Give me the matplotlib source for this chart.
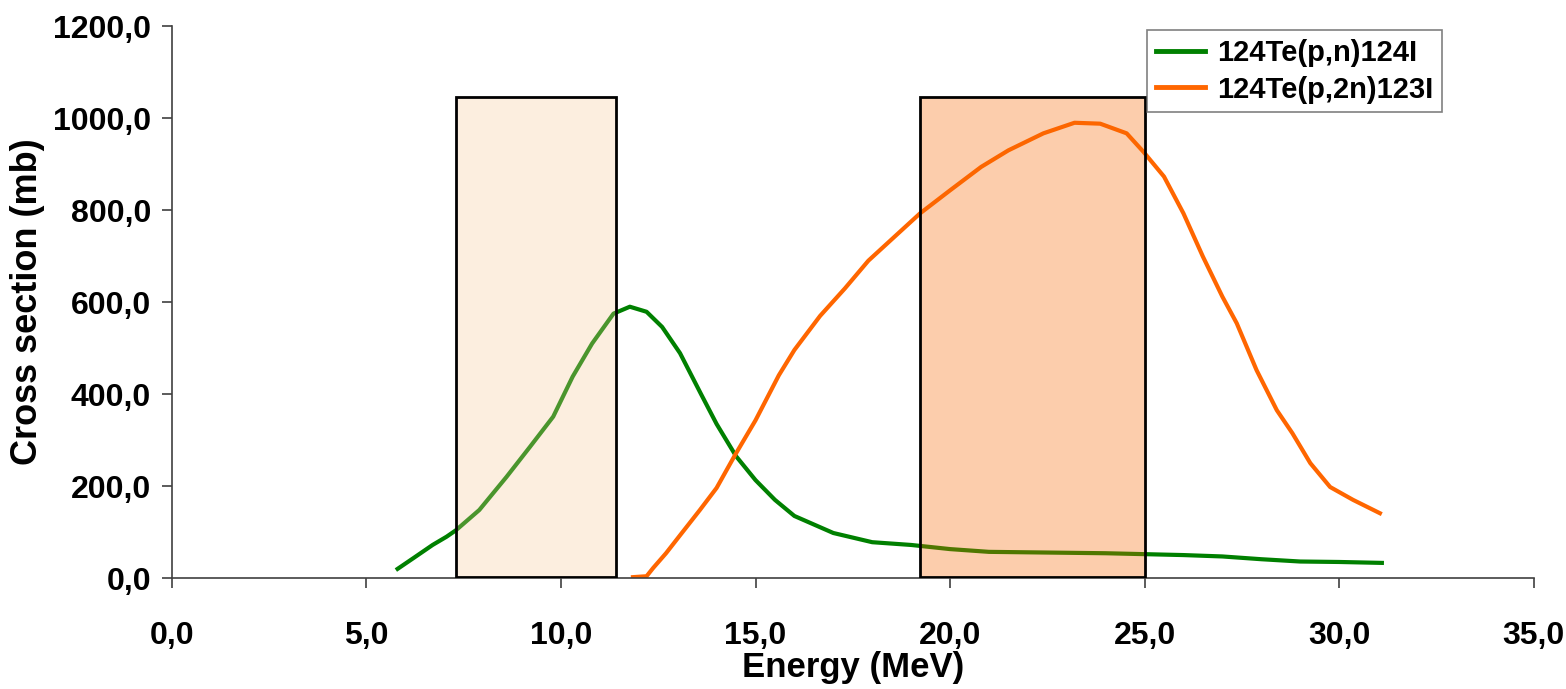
import matplotlib
matplotlib.use("Agg")
import matplotlib.pyplot as plt
from matplotlib.patches import Rectangle
from matplotlib.ticker import FuncFormatter

plt.rcParams['font.family'] = ['Liberation Sans', 'DejaVu Sans']
plt.rcParams['font.weight'] = 'bold'

# 124Te(p,n)124I
e_pn = [5.8, 6.2, 6.7, 7.06, 7.3, 7.9, 8.6, 9.2, 9.8, 10.3, 10.8, 11.35, 11.77,
        12.2, 12.6, 13.06, 13.6, 14.0, 14.5, 15.0, 15.5, 16.0, 17.0, 18.0, 19.0,
        20.0, 21.0, 22.0, 23.0, 24.0, 25.0, 26.0, 27.0, 28.0, 29.0, 30.0, 31.1]
xs_pn = [20, 43, 72, 90, 104, 148, 220, 285, 351, 438, 510, 575, 590,
         579, 546, 489, 400, 335, 265, 213, 170, 135, 98, 78, 72,
         63, 57, 56, 55, 54, 52, 50, 47, 41, 36, 35, 33]

# 124Te(p,2n)123I
e_p2n = [11.85, 12.2, 12.37, 12.7, 13.06, 13.57, 14.0, 14.47, 15.0, 15.6, 16.0,
         16.66, 17.3, 17.9, 18.7, 19.23, 20.0, 20.8, 21.5, 22.4, 23.2, 23.86,
         24.54, 24.97, 25.5, 26.0, 26.5, 27.0, 27.37, 27.88, 28.4, 28.8, 29.26,
         29.77, 30.36, 31.05]
xs_p2n = [2, 4, 22, 54, 93, 148, 196, 267, 343, 441, 496,
          570, 630, 690, 752, 793, 843, 894, 930, 967, 990, 988,
          967, 927, 873, 793, 699, 612, 554, 452, 365, 315, 250,
          198, 170, 141]

# highlighted energy windows (MeV) and their height (mb)
win_low = [7.3, 11.42]
win_high = [19.23, 25.0]
win_top = 1045

fig = plt.figure(figsize=(15.66, 6.89), dpi=100)
ax = fig.add_axes([0.1098, 0.161, 0.8695, 0.801])

ax.plot(e_pn, xs_pn, color='#008000', lw=3, label='124Te(p,n)124I')
ax.plot(e_p2n, xs_p2n, color='#FF6600', lw=3, label='124Te(p,2n)123I')

# shaded windows drawn over the curves (semi-transparent)
ax.add_patch(Rectangle((win_low[0], 3), win_low[1] - win_low[0], win_top - 3,
                       facecolor=(248/255, 200/255, 150/255, 0.3),
                       edgecolor='black', lw=2, zorder=3))
ax.add_patch(Rectangle((win_high[0], 3), win_high[1] - win_high[0], win_top - 3,
                       facecolor=(246/255, 103/255, 0, 0.325),
                       edgecolor='black', lw=2, zorder=3))

ax.set_xlim(0, 35)
ax.set_ylim(0, 1200)
ax.set_xticks(range(0, 36, 5))
ax.set_yticks(range(0, 1201, 200))
fmt = FuncFormatter(lambda v, p: f"{v:.1f}".replace('.', ','))
ax.xaxis.set_major_formatter(fmt)
ax.yaxis.set_major_formatter(fmt)

for s in ['top', 'right']:
    ax.spines[s].set_visible(False)
for s in ['left', 'bottom']:
    ax.spines[s].set_color('#404040')
    ax.spines[s].set_linewidth(1.2)

ax.tick_params(axis='both', direction='out', length=7, width=1.2, color='#404040',
               labelsize=23)
ax.tick_params(axis='x', pad=24)
ax.tick_params(axis='y', pad=8)

ax.set_xlabel('Energy (MeV)', fontsize=25, fontweight='bold', labelpad=0)
ax.set_ylabel('Cross section (mb)', fontsize=26, fontweight='bold', labelpad=6)

leg = ax.legend(loc='upper left', bbox_to_anchor=(0.716, 0.993), borderaxespad=0,
                fontsize=21, frameon=True, fancybox=False, handlelength=1.7,
                handletextpad=0.4, borderpad=0.3, labelspacing=0.3)
leg.get_frame().set_edgecolor('#606060')
leg.get_frame().set_linewidth(1.2)
for line in leg.get_lines():
    line.set_linewidth(3.5)

fig.savefig('out.png', dpi=100)
